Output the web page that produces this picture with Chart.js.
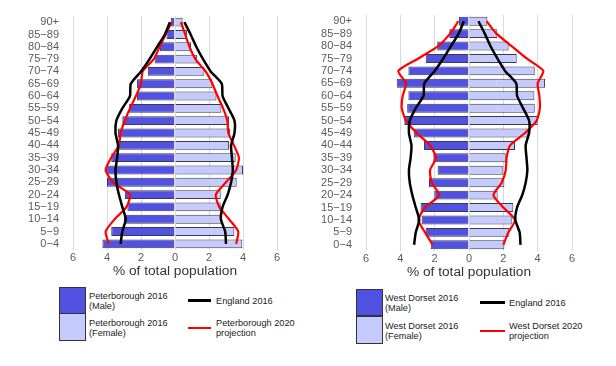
<!DOCTYPE html>
<html>
<head>
<meta charset="utf-8">
<script src="https://cdn.jsdelivr.net/npm/chart.js@4.4.1/dist/chart.umd.min.js"></script>
<style>
  body { margin: 0; background: #fff; width: 616px; height: 366px; position: relative; overflow: hidden;
         font-family: "Liberation Sans", Arial, sans-serif; }
  canvas { position: absolute; top: 0; }
  .sw { position: absolute; width: 27px; height: 27px; box-sizing: border-box; border: 1px solid #333; }
  .ln { position: absolute; }
  .tx { position: absolute; font-size: 9.2px; line-height: 10px; color: #222; white-space: nowrap; }
</style>
</head>
<body>
<canvas id="pboro" width="300" height="282" style="left:0"></canvas>
<canvas id="wdorset" width="300" height="283" style="left:300px"></canvas>

<!-- legends -->
<div class="sw" style="left:59px;top:287px;background:#5252e2"></div>
<div class="sw" style="left:59px;top:313px;height:28px;background:#c5cbff"></div>
<div class="tx" style="left:89px;top:291px">Peterborough 2016<br>(Male)</div>
<div class="tx" style="left:89px;top:318px">Peterborough 2016<br>(Female)</div>
<div class="ln" style="left:188px;top:299px;width:23px;height:3px;background:#000"></div>
<div class="tx" style="left:216px;top:296px">England 2016</div>
<div class="ln" style="left:188px;top:327px;width:23px;height:2px;background:#f00"></div>
<div class="tx" style="left:216px;top:318px">Peterborough 2020<br>projection</div>

<div class="sw" style="left:356px;top:289px;background:#5252e2"></div>
<div class="sw" style="left:356px;top:316px;height:28px;background:#c5cbff"></div>
<div class="tx" style="left:385px;top:293px">West Dorset 2016<br>(Male)</div>
<div class="tx" style="left:385px;top:321px">West Dorset 2016<br>(Female)</div>
<div class="ln" style="left:480px;top:301px;width:25px;height:3px;background:#000"></div>
<div class="tx" style="left:509px;top:298px">England 2016</div>
<div class="ln" style="left:480px;top:330px;width:25px;height:2px;background:#f00"></div>
<div class="tx" style="left:509px;top:321px">West Dorset 2020<br>projection</div>

<script>
// Age bands, youngest first (axis is reversed so 0-4 sits at the bottom).
const ageBands = ["0\u22124", "5\u22129", "10\u221214", "15\u221219", "20\u221224", "25\u221229", "30\u221234",
  "35\u221239", "40\u221244", "45\u221249", "50\u221254", "55\u221259", "60\u221264", "65\u221269",
  "70\u221274", "75\u221279", "80\u221284", "85\u221289", "90+"];
const xTicks = [-6, -4, -2, 0, 2, 4, 6];

// % of total population, all positive; male side is negated when drawn.
const englandMale   = [3.2, 3.1, 2.9, 3.1, 3.3, 3.45, 3.5, 3.4, 3.35, 3.5, 3.45, 3.1, 2.65, 2.6, 2.0, 1.5, 1.05, 0.6, 0.3];
const englandFemale = [3.0, 2.95, 2.7, 2.8, 3.1, 3.3, 3.4, 3.35, 3.3, 3.5, 3.5, 3.15, 2.8, 2.75, 2.1, 1.65, 1.25, 0.92, 0.55];

const pboroMale       = [4.27, 3.75, 3.0, 2.8, 2.95, 4.0, 4.05, 3.75, 3.4, 3.35, 3.1, 2.7, 2.24, 2.24, 1.6, 1.2, 0.88, 0.5, 0.25];
const pboroFemale     = [3.96, 3.49, 2.75, 2.69, 2.69, 3.63, 4.0, 3.57, 3.18, 3.24, 3.18, 2.73, 2.44, 2.2, 1.73, 1.29, 0.94, 0.7, 0.45];
const pboroProjMale   = [3.9, 4.08, 3.55, 2.85, 2.65, 3.65, 4.08, 3.75, 3.3, 3.2, 2.95, 2.65, 2.3, 2.0, 1.9, 1.25, 0.9, 0.55, 0.2];
const pboroProjFemale = [3.6, 3.72, 3.18, 2.6, 2.4, 3.0, 3.6, 3.76, 3.47, 3.14, 3.08, 2.83, 2.5, 2.2, 1.8, 1.2, 0.85, 0.6, 0.35];

const wdMale       = [2.23, 2.52, 2.76, 2.82, 2.02, 2.33, 1.83, 2.08, 2.62, 3.22, 3.77, 3.6, 3.53, 4.21, 3.53, 2.52, 1.85, 1.15, 0.58];
const wdFemale     = [2.06, 2.35, 2.49, 2.58, 1.67, 2.06, 2.0, 2.14, 2.68, 3.46, 4.0, 3.83, 3.81, 4.43, 3.83, 2.78, 2.31, 1.65, 1.07];
const wdProjMale   = [2.12, 2.56, 2.95, 2.56, 1.73, 2.17, 2.27, 1.92, 2.27, 3.05, 3.67, 3.92, 3.86, 3.67, 4.12, 2.95, 1.8, 1.1, 0.62];
const wdProjFemale = [2.0, 2.29, 2.68, 2.0, 1.42, 1.9, 2.14, 2.19, 2.39, 3.26, 3.94, 4.13, 4.1, 4.0, 4.33, 3.36, 2.48, 1.6, 1.03];

const neg = (arr) => arr.map((v) => -v);

function barSet(data, color) {
  return {
    type: "bar", data, backgroundColor: color, borderColor: "#3a3a4a", borderWidth: 1,
    grouped: false, barPercentage: 0.72, categoryPercentage: 1, order: 2,
  };
}
function lineSet(data, color, width) {
  return {
    type: "line", data, borderColor: color, borderWidth: width, pointRadius: 0,
    tension: 0.2, fill: false, order: 1, indexAxis: "y",
  };
}

function pyramid(id, male, female, projMale, projFemale, axisWidth, padRight, padTop) {
  return new Chart(document.getElementById(id), {
    data: {
      labels: ageBands,
      datasets: [
        barSet(neg(male), "#5252e2"),
        barSet(female, "#c5cbff"),
        lineSet(neg(englandMale), "#000", 2.5),
        lineSet(englandFemale, "#000", 2.5),
        lineSet(neg(projMale), "#ff0000", 2.2),
        lineSet(projFemale, "#ff0000", 2.2),
      ],
    },
    options: {
      indexAxis: "y",
      responsive: false,
      animation: false,
      layout: { padding: { top: padTop, right: padRight, left: 0, bottom: 0 } },
      plugins: { legend: { display: false }, tooltip: { enabled: false } },
      scales: {
        x: {
          type: "linear", min: -6, max: 6,
          afterBuildTicks: (s) => { s.ticks = xTicks.map((v) => ({ value: v })); },
          afterFit: (s) => { s.height = 32; },
          border: { display: false },
          grid: { color: "#d9d9d9", lineWidth: 1, drawTicks: false },
          ticks: { padding: 1, color: "#5a5a5a", font: { size: 11, family: "Liberation Sans" },
                   callback: (v) => Math.abs(v) },
          title: { display: true, text: "% of total population", color: "#333",
                   font: { size: 13.7, family: "Liberation Sans" }, padding: { top: 0, bottom: 3 } },
        },
        y: {
          type: "category", reverse: true,
          // fixed label column; drop the label overhang padding so the plot top follows padTop
          afterFit: (s) => { s.width = axisWidth; s.paddingTop = 0; s.paddingBottom = 0; },
          border: { display: false },
          grid: { display: false, drawTicks: false },
          ticks: { autoSkip: false, padding: 14, color: "#5a5a5a", font: { size: 11, family: "Liberation Sans" } },
        },
      },
    },
  });
}

pyramid("pboro", pboroMale, pboroFemale, pboroProjMale, pboroProjFemale, 73, 23, 16);
pyramid("wdorset", wdMale, wdFemale, wdProjMale, wdProjFemale, 66, 28, 15);
</script>
</body>
</html>
